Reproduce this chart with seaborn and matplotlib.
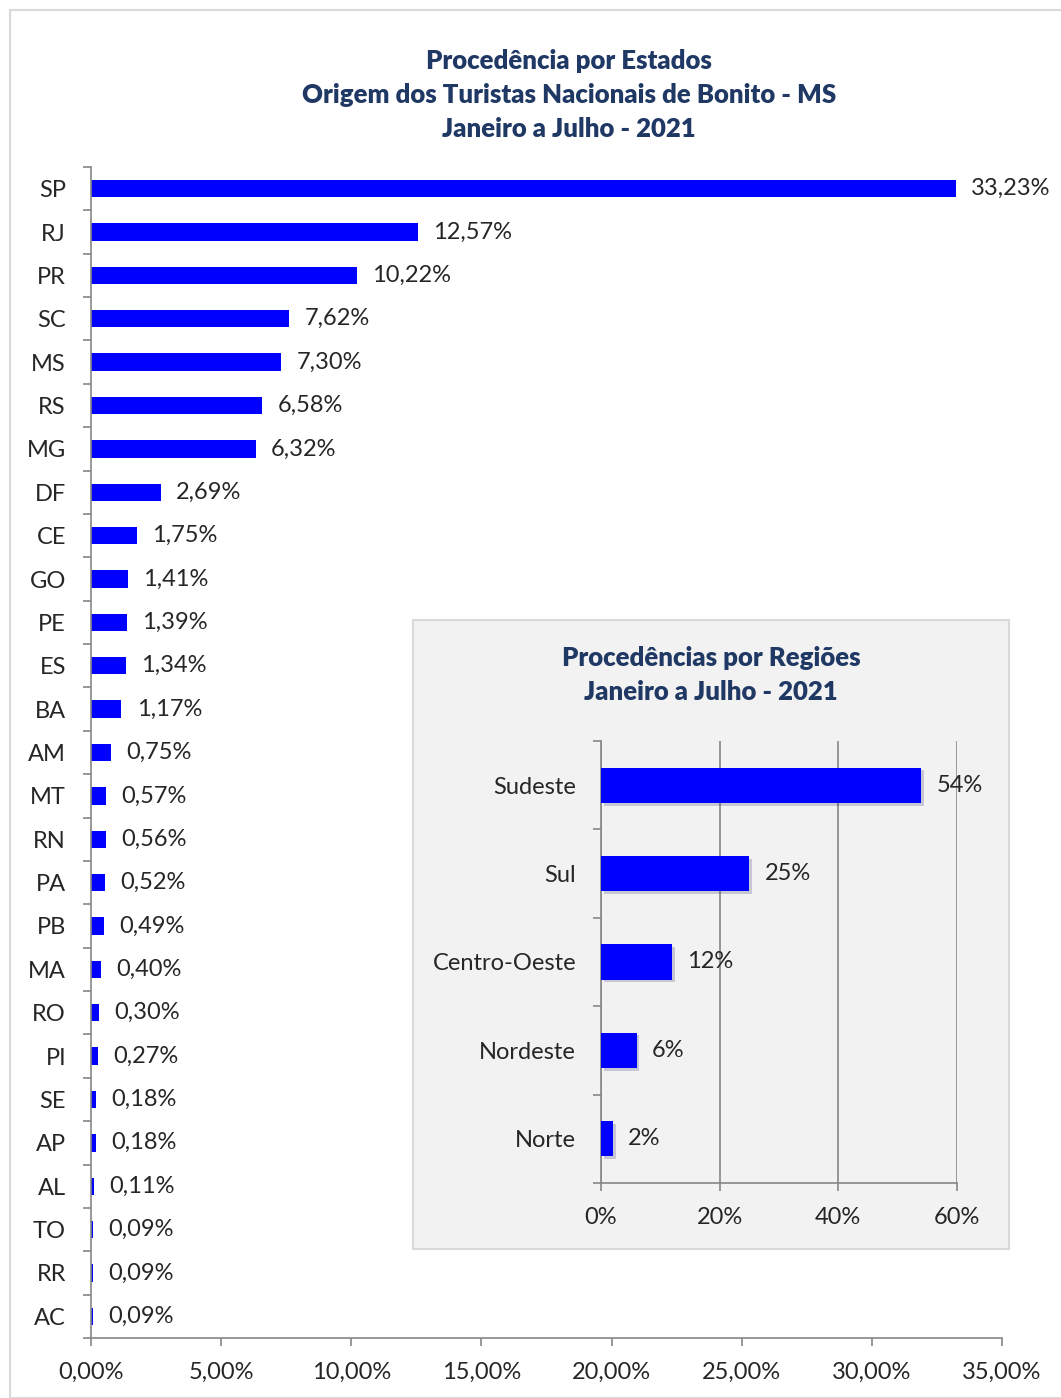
import matplotlib
matplotlib.use("Agg")
import matplotlib.pyplot as plt
import matplotlib.patheffects as pe
from matplotlib.patches import Rectangle
from matplotlib.ticker import FuncFormatter, FixedLocator
import seaborn as sns
import pandas as pd

# dados
estados = ["SP", "RJ", "PR", "SC", "MS", "RS", "MG", "DF", "CE", "GO", "PE", "ES", "BA",
           "AM", "MT", "RN", "PA", "PB", "MA", "RO", "PI", "SE", "AP", "AL", "TO", "RR", "AC"]
pct_estados = [33.23, 12.57, 10.22, 7.62, 7.30, 6.58, 6.32, 2.69, 1.75, 1.41, 1.39, 1.34, 1.17,
               0.75, 0.57, 0.56, 0.52, 0.49, 0.40, 0.30, 0.27, 0.18, 0.18, 0.11, 0.09, 0.09, 0.09]

regioes = ["Sudeste", "Sul", "Centro-Oeste", "Nordeste", "Norte"]
pct_regioes = [54, 25, 12, 6, 2]

titulo = "Procedência por Estados\nOrigem dos Turistas Nacionais de Bonito - MS\nJaneiro a Julho - 2021"
titulo_inset = "Procedências por Regiões\nJaneiro a Julho - 2021"

sns.set_style("white")
plt.rcParams["font.family"] = ["Lato", "DejaVu Sans"]

AZUL = "#0000FF"
NAVY = "#1F3864"
CINZA = "#868686"
TXT = 17

fig = plt.figure(figsize=(10.61, 13.98), dpi=100)

# moldura externa
fig.patches.append(Rectangle((10 / 1061, 0), 1.1, 1 - 10 / 1398, transform=fig.transFigure,
                             fill=False, edgecolor="#d9d9d9", linewidth=1.5))

fig.text(0.536, 1 - 95 / 1398, titulo, ha="center", va="center", fontsize=18.5,
         fontweight="heavy", color=NAVY, linespacing=1.52)

# grafico principal
df = pd.DataFrame({"estado": estados, "pct": pct_estados})
ax = fig.add_axes([91 / 1061, 60 / 1398, 911 / 1061, 1171 / 1398])
sns.barplot(data=df, x="pct", y="estado", orient="h", color=AZUL, width=0.4,
            saturation=1, linewidth=0, ax=ax)
ax.set_xlim(0, 35)
ax.set_ylim(len(estados) - 0.5, -0.5)
ax.set_xticks(range(0, 36, 5))
ax.xaxis.set_major_formatter(FuncFormatter(lambda v, p: f"{v:.2f}%".replace(".", ",")))
ax.yaxis.set_minor_locator(FixedLocator([i - 0.5 for i in range(len(estados) + 1)]))
ax.tick_params(axis="y", which="major", length=0, pad=18, labelsize=TXT)
ax.tick_params(axis="y", which="minor", length=6, color=CINZA, width=1.2, left=True)
ax.tick_params(axis="x", length=6, color=CINZA, width=1.2, pad=11, labelsize=TXT, bottom=True)
ax.set_xlabel("")
ax.set_ylabel("")
for s in ["top", "right"]:
    ax.spines[s].set_visible(False)
for s in ["left", "bottom"]:
    ax.spines[s].set_color(CINZA)
    ax.spines[s].set_linewidth(1.2)
ax.bar_label(ax.containers[0], labels=[f"{v:.2f}%".replace(".", ",") for v in pct_estados],
             padding=11, fontsize=TXT)

# quadro das regioes
fig.patches.append(Rectangle((413 / 1061, 149 / 1398), 596 / 1061, 629 / 1398,
                             transform=fig.transFigure, facecolor="#f2f2f2",
                             edgecolor="#d9d9d9", linewidth=1.5, zorder=5))
fig.text(711 / 1061, 1 - 675 / 1398, titulo_inset, ha="center", va="center", fontsize=18.5,
         fontweight="heavy", color=NAVY, linespacing=1.5, zorder=6)

dr = pd.DataFrame({"regiao": regioes, "pct": pct_regioes})
ax2 = fig.add_axes([601 / 1061, 215 / 1398, 356 / 1061, 442 / 1398], zorder=6)
ax2.set_facecolor("#f2f2f2")
sns.barplot(data=dr, x="pct", y="regiao", orient="h", color=AZUL, width=0.4,
            saturation=1, linewidth=0, ax=ax2, zorder=3)
for bar in ax2.patches:
    bar.set_path_effects([pe.SimplePatchShadow(offset=(2, -2), alpha=0.18), pe.Normal()])
ax2.set_xlim(0, 60)
ax2.set_ylim(len(regioes) - 0.5, -0.5)
ax2.set_xticks([0, 20, 40, 60])
ax2.xaxis.set_major_formatter(FuncFormatter(lambda v, p: f"{v:.0f}%"))
ax2.grid(axis="x", color=CINZA, linewidth=1.2, zorder=0)
ax2.set_axisbelow(True)
ax2.yaxis.set_minor_locator(FixedLocator([i - 0.5 for i in range(len(regioes) + 1)]))
ax2.tick_params(axis="y", which="major", length=0, pad=18, labelsize=TXT)
ax2.tick_params(axis="y", which="minor", length=6, color=CINZA, width=1.2, left=True)
ax2.tick_params(axis="x", length=6, color=CINZA, width=1.2, pad=11, labelsize=TXT, bottom=True)
ax2.set_xlabel("")
ax2.set_ylabel("")
for s in ["top", "right"]:
    ax2.spines[s].set_visible(False)
for s in ["left", "bottom"]:
    ax2.spines[s].set_color(CINZA)
    ax2.spines[s].set_linewidth(1.2)
ax2.bar_label(ax2.containers[0], labels=[f"{v}%" for v in pct_regioes], padding=11, fontsize=TXT)

fig.savefig("out.png", dpi=100)
